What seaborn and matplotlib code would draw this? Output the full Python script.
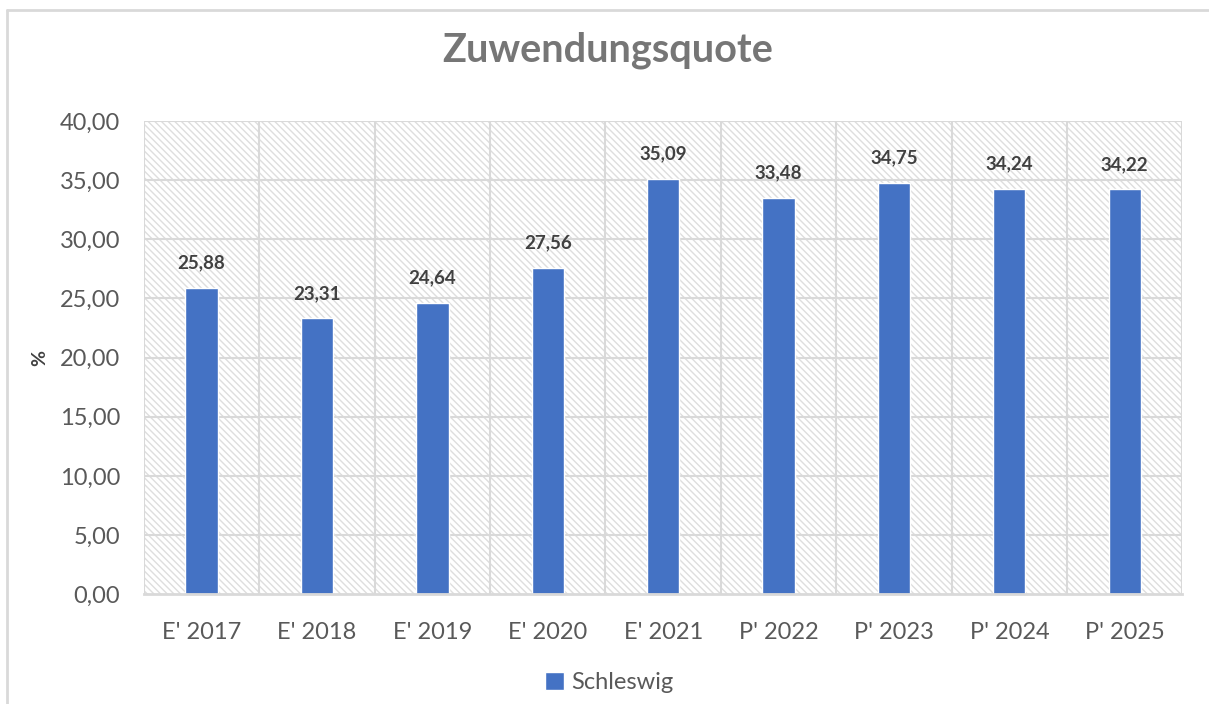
import matplotlib
matplotlib.use("Agg")
import matplotlib.pyplot as plt
import pandas as pd
import seaborn as sns
from matplotlib.patches import Rectangle
from matplotlib.lines import Line2D
from matplotlib.ticker import FuncFormatter

# data
years = ["E' 2017", "E' 2018", "E' 2019", "E' 2020", "E' 2021",
         "P' 2022", "P' 2023", "P' 2024", "P' 2025"]
quote = [25.88, 23.31, 24.64, 27.56, 35.09, 33.48, 34.75, 34.24, 34.22]
series_name = "Schleswig"

df = pd.DataFrame({"Jahr": years, "Quote": quote})

sns.set_theme(style="white")
plt.rcParams["font.family"] = ["Lato", "DejaVu Sans"]
plt.rcParams["hatch.linewidth"] = 1.0

grid_col = "#d9d9d9"
hatch_col = "#dedede"
text_col = "#595959"
bar_col = "#4472c4"

fig = plt.figure(figsize=(12.09, 7.04), dpi=100)
ax = fig.add_axes([0.119, 0.156, 0.859, 0.672])

sns.barplot(data=df, x="Jahr", y="Quote", color=bar_col, width=0.28,
            saturation=1, ax=ax, zorder=3, label=series_name)

# hatched plot area background
ax.patch.set_visible(False)
bg = Rectangle((0, 0), 1, 1, transform=ax.transAxes, facecolor="white",
               edgecolor=hatch_col, hatch="\\\\\\\\\\", linewidth=0, zorder=0)
ax.add_patch(bg)

ax.set_ylim(0, 40)
ax.set_xlim(-0.5, len(years) - 0.5)
ax.set_yticks(range(0, 41, 5))
ax.yaxis.set_major_formatter(FuncFormatter(lambda v, p: f"{v:.2f}".replace(".", ",")))

# gridlines: horizontal and between categories
for y in range(5, 41, 5):
    ax.axhline(y, color=grid_col, lw=1.5, zorder=1)
for i in range(len(years) + 1):
    ax.axvline(i - 0.5, color=grid_col, lw=1.5, zorder=1)

for s in ["top", "right", "left"]:
    ax.spines[s].set_visible(False)
ax.spines["bottom"].set_color(grid_col)
ax.spines["bottom"].set_linewidth(2)
ax.spines["bottom"].set_zorder(4)

ax.tick_params(axis="both", length=0, labelsize=17, colors=text_col)
ax.tick_params(axis="y", pad=17)
ax.tick_params(axis="x", pad=20)
ax.set_xlabel("")
ax.set_ylabel("%", fontsize=14, fontweight="bold", color="#404040", labelpad=8)

for i, v in enumerate(quote):
    ax.annotate(f"{v:.2f}".replace(".", ","), (i, v), xytext=(0, 18),
                textcoords="offset points", ha="center", va="center",
                fontsize=13.5, fontweight="bold", color="#404040")

fig.text(0.503, 0.928, "Zuwendungsquote", ha="center", va="center",
         fontsize=28.5, fontweight="bold", color="#767676")

leg = ax.legend(loc="center", bbox_to_anchor=(0.448, -0.186), frameon=False,
                fontsize=17, handlelength=0.8, handleheight=0.8,
                handletextpad=0.3)
for t in leg.get_texts():
    t.set_color(text_col)

# outer chart border (top and left visible)
fig.add_artist(Line2D([0.006, 1.0], [0.986, 0.986], color=grid_col, lw=2,
                      transform=fig.transFigure))
fig.add_artist(Line2D([0.006, 0.006], [0.0, 0.986], color=grid_col, lw=2,
                      transform=fig.transFigure))

fig.savefig("out.png", dpi=100)
